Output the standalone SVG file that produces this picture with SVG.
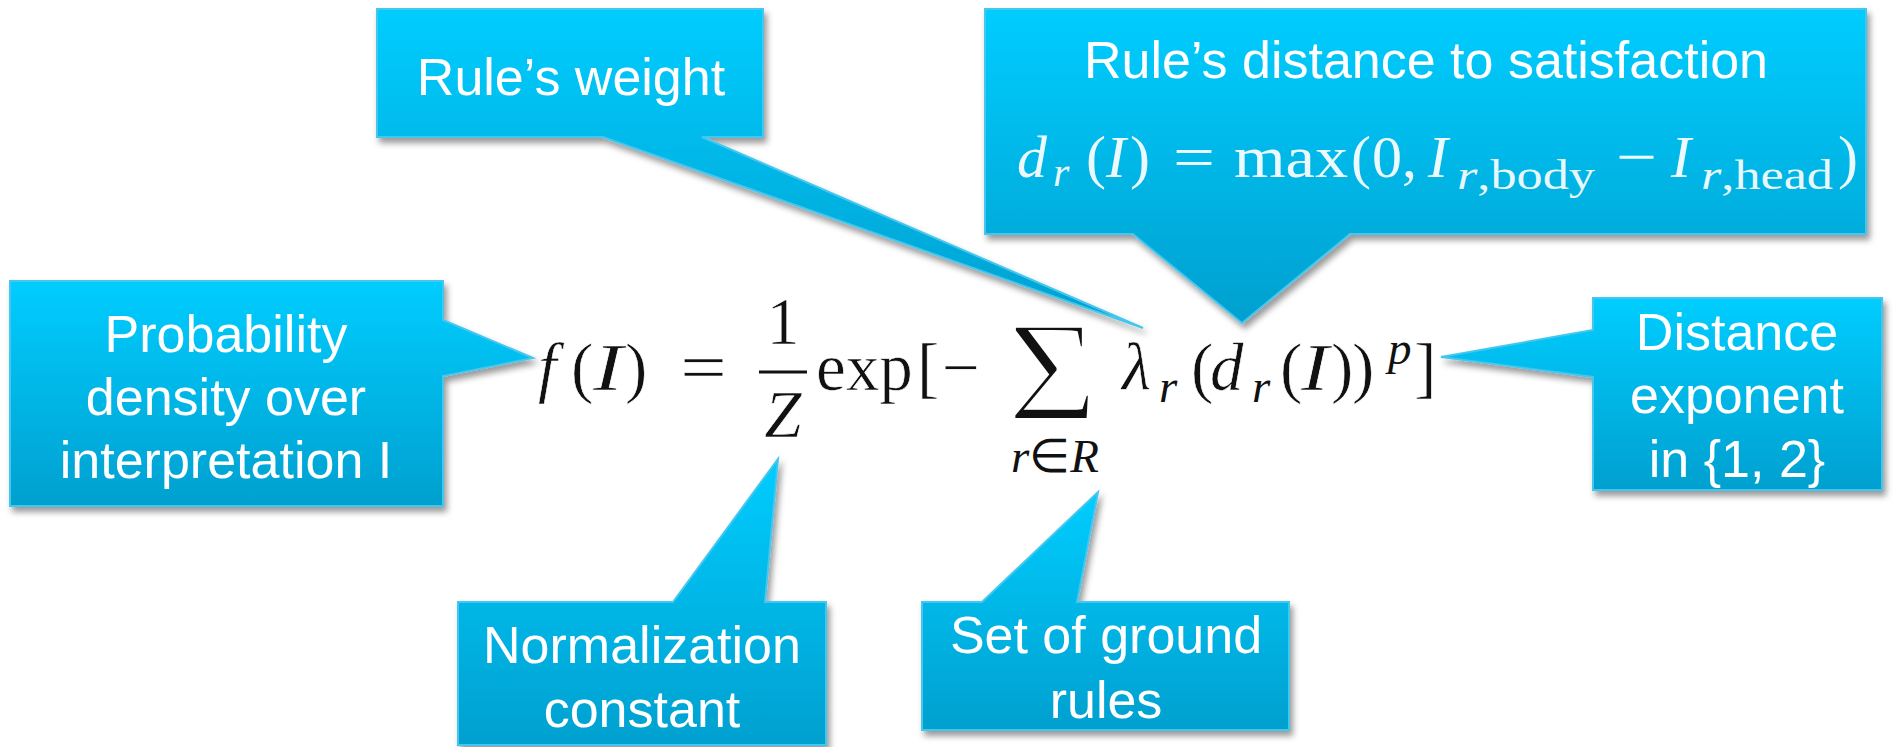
<svg xmlns="http://www.w3.org/2000/svg" width="1893" height="747" viewBox="0 0 1893 747">
  <defs>
    <linearGradient id="cg" x1="0" y1="0" x2="0" y2="1">
      <stop offset="0" stop-color="#00CDFF"/>
      <stop offset="1" stop-color="#00A0CF"/>
    </linearGradient>
    <filter id="sh" x="-10%" y="-10%" width="125%" height="130%">
      <feDropShadow dx="3" dy="5" stdDeviation="3" flood-color="#000" flood-opacity="0.4"/>
    </filter>
  </defs>
  <style>
    .call { fill: url(#cg); stroke: #45C6EE; stroke-width: 2; filter: url(#sh); }
    .lbl { font-family: "Liberation Sans", Arial, sans-serif; font-size: 52px; fill: #fff; text-anchor: middle; }
    .math { font-family: "Liberation Serif", "Times New Roman", serif; font-size: 67px; fill: #111; stroke: #fff; stroke-width: 0.6; }
    .sig { stroke-width: 4; }
    .wm { font-family: "Liberation Serif", "Times New Roman", serif; font-size: 60px; fill: #fff; fill-opacity: 0.92; }
    .it { font-style: italic; }
    .sub { font-size: 47px; stroke: none; }
    .wsub { font-size: 42px; }
  </style>
  <rect width="1893" height="747" fill="#fff"/>

  <g id="formula">
    <text class="math" y="390">
      <tspan class="it" x="538">f</tspan><tspan x="571">(</tspan><tspan class="it" x="593" textLength="30" lengthAdjust="spacingAndGlyphs">I</tspan><tspan x="625">)</tspan><tspan x="680" textLength="47" lengthAdjust="spacingAndGlyphs">=</tspan>
    </text>
    <text class="math" x="783" y="344" text-anchor="middle">1</text>
    <line x1="759" y1="372" x2="807" y2="372" stroke="#111" stroke-width="3"/>
    <text class="math it" x="783" y="437" text-anchor="middle">Z</text>
    <text class="math" y="390">
      <tspan x="816">exp</tspan><tspan x="917">[</tspan><tspan x="942">−</tspan>
    </text>
    <text class="math sig" x="1007" y="420" style="font-size:143px" textLength="91" lengthAdjust="spacingAndGlyphs">Σ</text>
    <text class="math sub" x="1055" y="472" text-anchor="middle"><tspan class="it">r</tspan>∈<tspan class="it">R</tspan></text>
    <text class="math" y="390">
      <tspan class="it" x="1122">λ</tspan><tspan class="it sub" x="1159" y="402">r</tspan><tspan x="1191" y="390">(</tspan><tspan class="it" x="1210">d</tspan><tspan class="it sub" x="1252" y="402">r</tspan><tspan x="1280" y="390">(</tspan><tspan class="it" x="1301" textLength="28" lengthAdjust="spacingAndGlyphs">I</tspan><tspan x="1331">)</tspan><tspan x="1352">)</tspan><tspan class="it sub" x="1388" y="364">p</tspan><tspan x="1414" y="390">]</tspan>
    </text>
  </g>

  <g id="rule-weight">
    <path class="call" d="M377,9 H763 V137 H702 L1143,328 L603,137 H377 Z"/>
    <text class="lbl" x="571" y="95">Rule’s weight</text>
  </g>

  <g id="rule-distance">
    <path class="call" d="M985,9 H1866 V234 H1350 L1242,323 L1133,234 H985 Z"/>
    <text class="lbl" x="1426" y="78">Rule’s distance to satisfaction</text>
    <text class="wm" y="177">
      <tspan class="it" x="1017">d</tspan><tspan class="it wsub" x="1053" y="186">r</tspan><tspan x="1086" y="177">(</tspan><tspan class="it" x="1106">I</tspan><tspan x="1130">)</tspan><tspan x="1173" textLength="42" lengthAdjust="spacingAndGlyphs">=</tspan><tspan x="1234" textLength="114" lengthAdjust="spacingAndGlyphs">max</tspan><tspan x="1351">(</tspan><tspan x="1372">0</tspan><tspan x="1402">,</tspan><tspan class="it" x="1428">I</tspan><tspan class="wsub" x="1457" y="189" textLength="138" lengthAdjust="spacingAndGlyphs"><tspan class="it">r</tspan>,body</tspan><tspan x="1616" y="177" textLength="41" lengthAdjust="spacingAndGlyphs">−</tspan><tspan class="it" x="1671">I</tspan><tspan class="wsub" x="1701" y="189" textLength="132" lengthAdjust="spacingAndGlyphs"><tspan class="it">r</tspan>,head</tspan><tspan x="1838" y="177">)</tspan>
    </text>
  </g>

  <g id="probability">
    <path class="call" d="M10,281 H443 V320 L533,358 L443,376 V506 H10 Z"/>
    <text class="lbl" x="226" y="352">Probability</text>
    <text class="lbl" x="226" y="415">density over</text>
    <text class="lbl" x="226" y="478">interpretation I</text>
  </g>

  <g id="normalization">
    <path class="call" d="M458,602 H673 L778,459 L765,602 H826 V745 H458 Z"/>
    <text class="lbl" x="642" y="663">Normalization</text>
    <text class="lbl" x="642" y="727">constant</text>
  </g>

  <g id="ground-rules">
    <path class="call" d="M922,602 H982 L1098,492 L1077,602 H1289 V730 H922 Z"/>
    <text class="lbl" x="1106" y="653">Set of ground</text>
    <text class="lbl" x="1106" y="718">rules</text>
  </g>

  <g id="exponent">
    <path class="call" d="M1593,298 H1882 V490 H1593 V377 L1441,357 L1593,330 Z"/>
    <text class="lbl" x="1737" y="350">Distance</text>
    <text class="lbl" x="1737" y="413">exponent</text>
    <text class="lbl" x="1737" y="477">in {1, 2}</text>
  </g>
</svg>
